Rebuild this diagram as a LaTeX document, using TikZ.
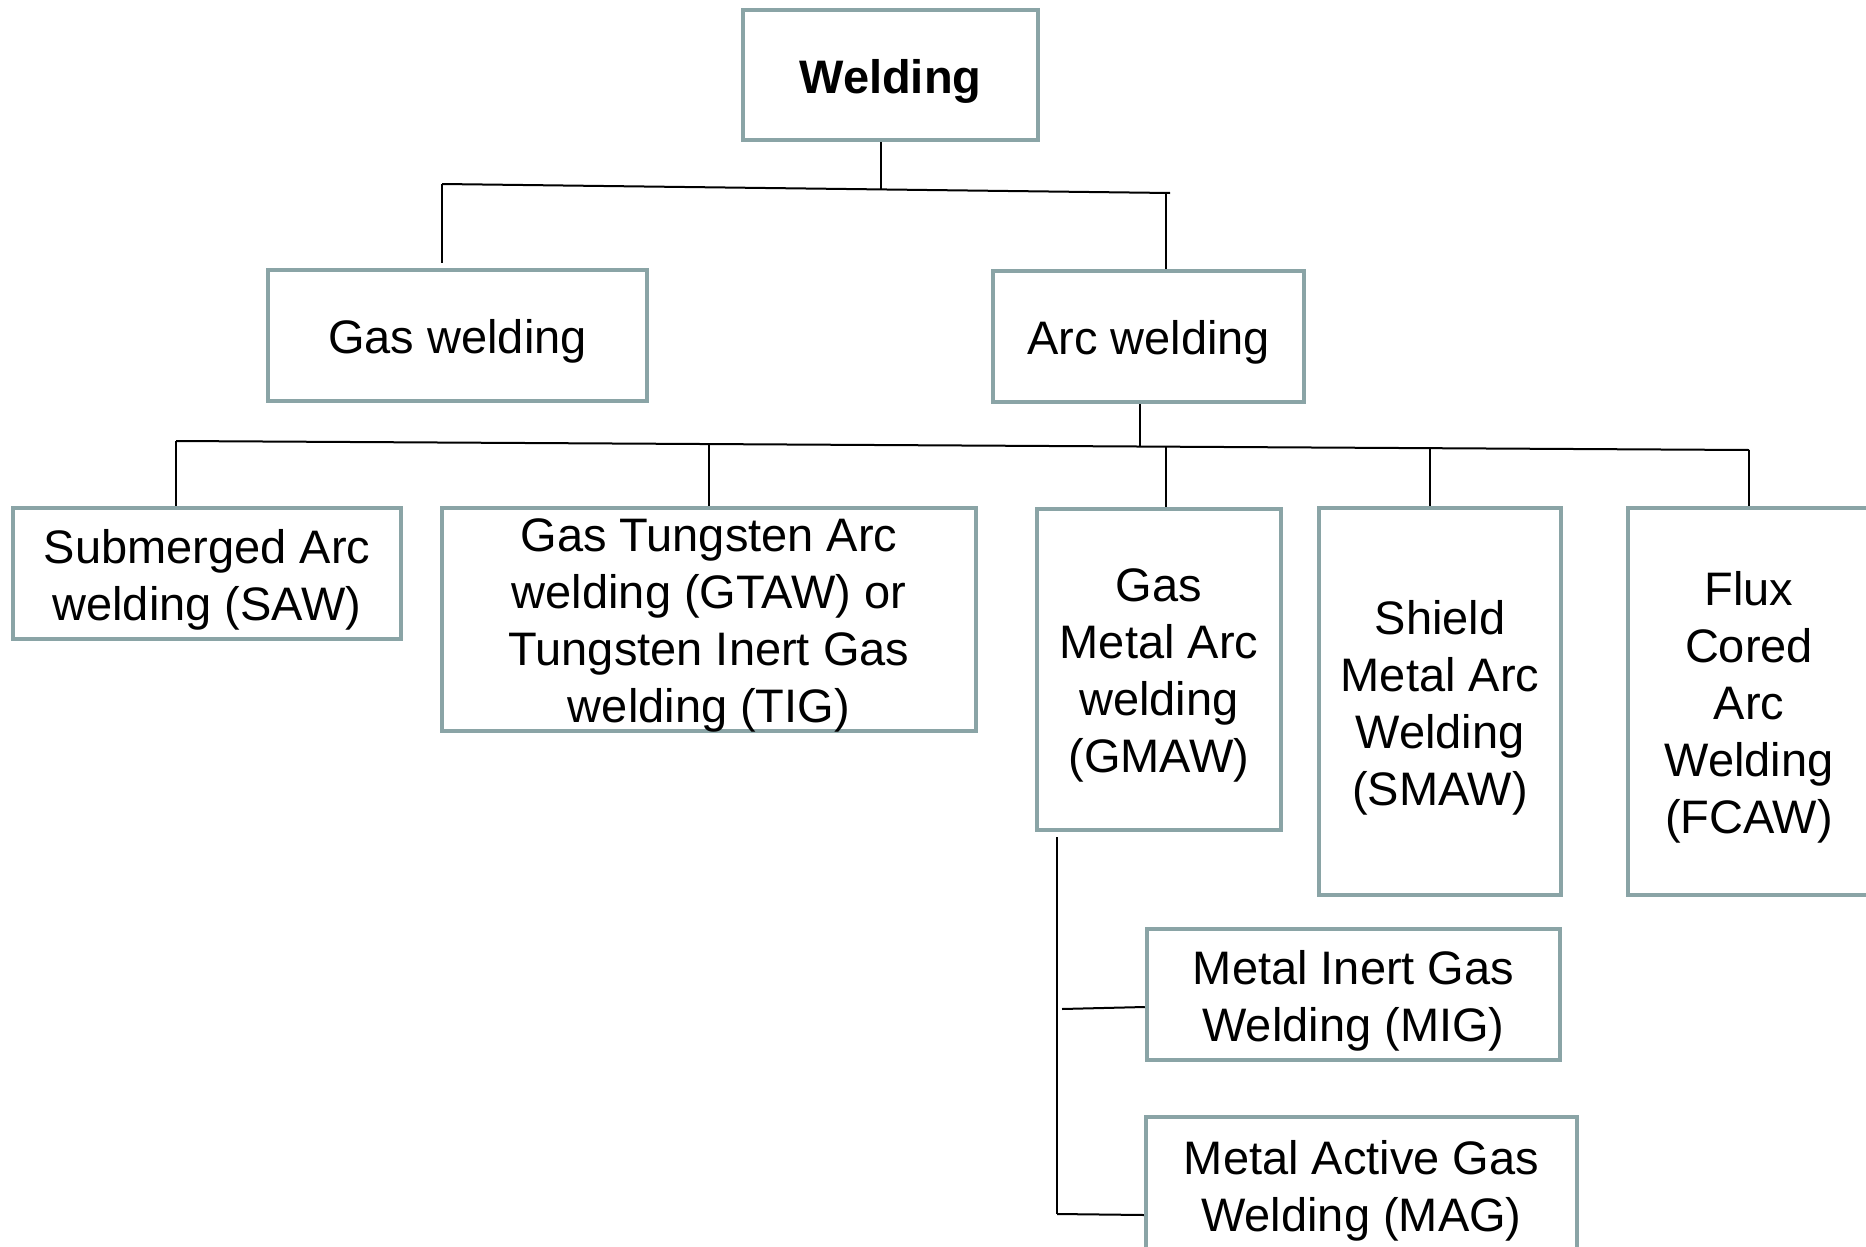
\documentclass[tikz,border=0pt]{standalone}
\usepackage{fontspec}
\setmainfont{Liberation Sans}
\definecolor{boxc}{RGB}{138,164,166}
\begin{document}
\begin{tikzpicture}[x=1pt,y=-1pt,
  box/.style={draw=boxc, line width=4.5pt, fill=white, inner sep=0pt},
  txt/.style={align=center, inner sep=0pt, yshift=-6pt, font=\fontsize{47}{57}\selectfont},
  conn/.style={line width=2pt, black}]
\useasboundingbox (0,0) rectangle (1866,1247);
\clip (0,0) rectangle (1866,1247);
\fill[white] (0,0) rectangle (1866,1247);

\coordinate (b1L) at (442,184);
\coordinate (b1R) at (1170,193);
\coordinate (b2L) at (176,441);
\coordinate (b2R) at (1749,450);
\coordinate (gasend) at (442,263);
\coordinate (gmawtop) at (1057,837);
\coordinate (gmawbot) at (1057,1214);
\coordinate (migj) at (1062,1009);

\node[box, minimum width=295, minimum height=130, label={[txt]center:\textbf{Welding}}] (weld) at (890.5,75) {};
\node[box, minimum width=379, minimum height=131, label={[txt]center:Gas welding}] (gas) at (457.5,335.5) {};
\node[box, minimum width=311, minimum height=131, label={[txt]center:Arc welding}] (arc) at (1148.5,336.5) {};
\node[box, minimum width=388, minimum height=131, label={[txt]center:Submerged Arc\\welding (SAW)}] (saw) at (207,573.5) {};
\node[box, minimum width=534, minimum height=223, label={[txt]center:Gas Tungsten Arc\\welding (GTAW) or\\Tungsten Inert Gas\\welding (TIG)}] (gtaw) at (709,619.5) {};
\node[box, minimum width=244, minimum height=321, label={[txt]center:Gas\\Metal Arc\\welding\\(GMAW)}] (gmaw) at (1159,669.5) {};
\node[box, minimum width=242, minimum height=387, label={[txt]center:Shield\\Metal Arc\\Welding\\(SMAW)}] (smaw) at (1440,701.5) {};
\node[box, minimum width=242, minimum height=387, label={[txt]center:Flux\\Cored\\Arc\\Welding\\(FCAW)}] (fcaw) at (1749,701.5) {};
\node[box, minimum width=413, minimum height=131, label={[txt]center:Metal Inert Gas\\Welding (MIG)}] (mig) at (1353.5,994.5) {};
\node[box, minimum width=431, minimum height=136, label={[txt]center:Metal Active Gas\\Welding (MAG)}] (mag) at (1361.5,1185) {};

\draw[conn] ([xshift=-9.5pt]weld.south) -- (881,189.4);
\draw[conn] (b1L) -- (b1R);
\draw[conn] (b1L) -- (gasend);
\draw[conn] (1166,193) -- ([xshift=17.5pt]arc.north);
\draw[conn] ([xshift=-8.5pt]arc.south) -- (1140,446.5);
\draw[conn] (b2L) -- (b2R);
\draw[conn] (b2L) -- ([xshift=-31pt]saw.north);
\draw[conn] (709,444) -- (gtaw.north);
\draw[conn] (1166,446.7) -- ([xshift=7pt]gmaw.north);
\draw[conn] (1430,448.2) -- ([xshift=-10pt]smaw.north);
\draw[conn] (b2R) -- (fcaw.north);
\draw[conn] (gmawtop) -- (gmawbot);
\draw[conn] (migj) -- ([yshift=-12.5pt]mig.west);
\draw[conn] (gmawbot) -- ([yshift=-30pt]mag.west);
\end{tikzpicture}
\end{document}
